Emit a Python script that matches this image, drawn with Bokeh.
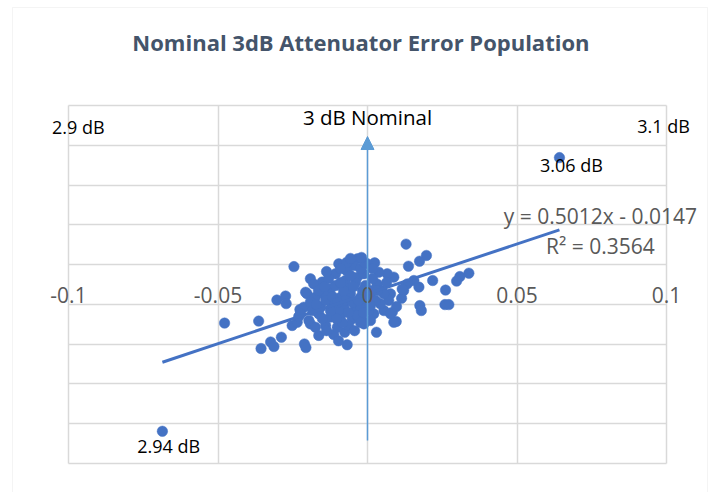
from bokeh.plotting import figure
from bokeh.models import (Range1d, LinearAxis, FixedTicker, Label, Arrow, NormalHead,
                          ColumnDataSource, BoxAnnotation)
from bokeh.embed import file_html
from bokeh.resources import INLINE

# ---- data ----
title_text = "Nominal 3dB Attenuator Error Population"
x_ticks = [-0.1, -0.05, 0.0, 0.05, 0.1]
x_tick_labels = ["-0.1", "-0.05", "0", "0.05", "0.1"]
y_grid = [-0.1, -0.08, -0.06, -0.04, -0.02, 0.0, 0.02, 0.04, 0.06, 0.08]
x_axis_cross = -0.02

err_x = [0.0642, -0.0686, -0.0478, -0.0364, -0.0356, -0.0324, -0.0313, -0.0288, -0.0303, -0.0274,
         -0.0272, -0.0246, -0.0252, -0.0211, -0.0206, -0.0226, -0.0235, -0.0230, -0.0191, -0.0213,
         -0.0202, -0.0207, -0.0163, -0.0113, -0.0068, -0.0076, -0.0191, -0.0152, -0.0180, -0.0107,
         -0.0096, -0.0074, -0.0124, -0.0174, -0.0146, -0.0090, -0.0057, -0.0023, -0.0034, -0.0034,
         -0.0046, -0.0012, -0.0191, -0.0157, -0.0118, -0.0079, -0.0040, -0.0023, -0.0224, -0.0196,
         -0.0163, -0.0124, -0.0090, -0.0051, -0.0018, -0.0034, -0.0174, -0.0140, -0.0101, -0.0063,
         -0.0012, 0.0024, -0.0001, 0.0129, 0.0197, 0.0174, 0.0137, 0.0339, 0.0309, 0.0298,
         0.0218, 0.0261, 0.0172, 0.0114, 0.0175, 0.0180, 0.0259, 0.0272, 0.0096, 0.0030,
         0.0088, 0.0066, 0.0038, 0.0155, 0.0133, 0.0121, 0.0077, 0.0071, 0.0083, 0.0055,
         0.0021, 0.0010, 0.0032, 0.0049, 0.0043, 0.0088, 0.0077, 0.0055, 0.0116, -0.0107,
         -0.0064, -0.0007, -0.0007, 0.0003, -0.0074, -0.0140, -0.0097, -0.0050, -0.0017, -0.0130,
         -0.0070, -0.0023, 0.0017, 0.0027, 0.0010, -0.0084, -0.0164, 0.0017, -0.0040, -0.0010,
         -0.0137, -0.0117, -0.0100, -0.0080, -0.0064, -0.0047, -0.0030, -0.0013, -0.0104, -0.0124,
         -0.0151, -0.0184, -0.0171, -0.0070, -0.0057, -0.0090, -0.0144, -0.0023, -0.0043, -0.0097,
         -0.0137, 0.0010, 0.0033, 0.0017, 0.0064, 0.0097, -0.0057, -0.0090, -0.0020]
err_y = [0.0538, -0.0838, -0.0294, -0.0284, -0.0422, -0.0389, -0.0412, -0.0365, -0.0178, -0.0158,
         -0.0196, -0.0010, -0.0306, -0.0399, -0.0417, -0.0226, -0.0290, -0.0261, -0.0298, -0.0214,
         -0.0147, -0.0139, -0.0356, -0.0351, -0.0403, -0.0340, -0.0071, -0.0088, -0.0097, -0.0046,
         0.0004, -0.0080, -0.0122, -0.0164, -0.0147, -0.0164, -0.0147, -0.0164, -0.0063, 0.0029,
         -0.0005, -0.0046, -0.0189, -0.0214, -0.0206, -0.0214, -0.0222, -0.0214, -0.0247, -0.0281,
         -0.0247, -0.0264, -0.0256, -0.0273, -0.0281, -0.0256, -0.0315, -0.0306, -0.0315, -0.0306,
         -0.0298, 0.0009, 0.0004, 0.0103, 0.0046, 0.0017, -0.0008, -0.0043, -0.0060, -0.0083,
         -0.0080, -0.0128, -0.0113, -0.0169, -0.0206, -0.0231, -0.0201, -0.0201, -0.0286, -0.0340,
         -0.0063, -0.0046, -0.0038, -0.0080, -0.0097, -0.0130, -0.0147, -0.0180, -0.0239, -0.0231,
         -0.0247, -0.0164, -0.0097, -0.0130, -0.0197, -0.0290, -0.0247, -0.0147, -0.0122, -0.0105,
         -0.0120, -0.0105, -0.0180, -0.0231, -0.0180, -0.0180, -0.0231, -0.0191, -0.0130, -0.0070,
         -0.0030, -0.0020, -0.0070, -0.0180, -0.0281, -0.0291, -0.0130, -0.0130, -0.0090, 0.0011,
         -0.0035, -0.0160, -0.0191, -0.0130, -0.0241, -0.0110, -0.0181, -0.0241, -0.0271, -0.0231,
         -0.0271, -0.0231, -0.0201, 0.0011, -0.0055, -0.0090, -0.0110, -0.0291, -0.0332, -0.0383,
         -0.0332, -0.0206, -0.0130, -0.0020, -0.0090, -0.0211, 0.0031, -0.0020, 0.0036]

trend_coef = [0.5012, -0.0147]   # slope, intercept (as printed on the chart)
trend_text = ["y = 0.5012x - 0.0147", "R\u00b2 = 0.3564"]

nominal_arrow = [-0.0884, 0.0644]  # y start / end of the "3 dB Nominal" marker at x = 0

# annotation texts: (text, x, y, align, size)
notes = [
    ("2.9 dB", -0.1055, 0.0690, "left", "18px"),
    ("3 dB Nominal", 0.0, 0.0742, "center", "20.5px"),
    ("3.1 dB", 0.0902, 0.0698, "left", "18px"),
    ("3.06 dB", 0.0577, 0.0503, "left", "18px"),
    ("2.94 dB", -0.0770, -0.0913, "left", "18px"),
]

FONT = "Open Sans"
GRID = "#D9D9D9"
BLUE = "#4472C4"

# canvas == frame; the visible ranges extend past the plotting area (-0.1..0.1, -0.1..0.08)
W, H = 709, 492
PX_X = 2990.0   # pixels per x unit
PX_Y = 1988.9   # pixels per y unit
LEFT, TOP = 68, 105
x0 = x_ticks[0] - LEFT / PX_X
x1 = x_ticks[0] + (W - LEFT) / PX_X
y1 = y_grid[-1] + TOP / PX_Y
y0 = y_grid[-1] - (H - TOP) / PX_Y

p = figure(width=W, height=H, output_backend="svg", toolbar_location=None,
           x_range=Range1d(x0, x1), y_range=Range1d(y0, y1),
           x_axis_location=None, y_axis_location=None,
           min_border=0)
p.outline_line_color = None
p.background_fill_color = "white"
p.border_fill_color = "white"

# outer chart border
p.add_layout(BoxAnnotation(left=x0 + 12 / PX_X, right=x0 + 707 / PX_X,
                           top=y1 - 7 / PX_Y, bottom=y0 - 0.01,
                           fill_color=None, line_color=GRID, line_width=1))

grid_cross_ok = "cross_bounds" in p.xgrid[0].properties()
p.xgrid.ticker = FixedTicker(ticks=x_ticks)
p.ygrid.ticker = FixedTicker(ticks=y_grid)
for g in (p.xgrid, p.ygrid):
    g.grid_line_color = GRID
    g.grid_line_width = 1.5
if grid_cross_ok:
    p.xgrid.cross_bounds = (y_grid[0], y_grid[-1])
    p.ygrid.cross_bounds = (x_ticks[0], x_ticks[-1])
else:
    p.xgrid.visible = False
    p.ygrid.visible = False
    p.segment(x0=x_ticks, y0=[y_grid[0]] * len(x_ticks), x1=x_ticks, y1=[y_grid[-1]] * len(x_ticks),
              line_color=GRID, line_width=1.5)
    p.segment(x0=[x_ticks[0]] * len(y_grid), y0=y_grid, x1=[x_ticks[-1]] * len(y_grid), y1=y_grid,
              line_color=GRID, line_width=1.5)

xa = LinearAxis(fixed_location=x_axis_cross, ticker=FixedTicker(ticks=x_ticks),
                major_label_overrides={t: l for t, l in zip(x_ticks, x_tick_labels)})
xa.axis_line_color = None
xa.major_tick_out = 0
xa.major_tick_in = 0
xa.minor_tick_out = 0
xa.minor_tick_in = 0
xa.major_label_standoff = 1
xa.major_label_text_font = FONT
xa.major_label_text_font_size = "21px"
xa.major_label_text_color = "#595959"
p.add_layout(xa, "above")

src = ColumnDataSource(dict(x=err_x, y=err_y))
p.scatter("x", "y", source=src, size=10.5, fill_color=BLUE, line_color=BLUE, line_width=0.5)

xmin, xmax = min(err_x), max(err_x)
tx = [xmin, xmax]
ty = [trend_coef[0] * v + trend_coef[1] for v in tx]
p.line(tx, ty, line_color=BLUE, line_width=3)

p.add_layout(Arrow(end=NormalHead(size=13, fill_color="#5B9BD5", line_color="#5B9BD5"),
                   x_start=0, y_start=nominal_arrow[0], x_end=0, y_end=nominal_arrow[1],
                   line_color="#5B9BD5", line_width=1.5))

for txt, x, y, al, sz in notes:
    p.add_layout(Label(x=x, y=y, text=txt, text_align=al, text_baseline="alphabetic",
                       text_font=FONT, text_font_size=sz, text_color="black"))

p.add_layout(Label(x=0.0779, y=0.0245, text=trend_text[0], text_align="center",
                   text_baseline="alphabetic", text_font=FONT, text_font_size="21px",
                   text_color="#595959"))
p.add_layout(Label(x=0.0779, y=0.0093, text=trend_text[1], text_align="center",
                   text_baseline="alphabetic", text_font=FONT, text_font_size="21px",
                   text_color="#595959"))

p.add_layout(Label(x=-0.0022, y=0.1117, text=title_text, text_align="center",
                   text_baseline="alphabetic", text_font=FONT, text_font_size="22px",
                   text_font_style="bold", text_color="#44546A"))

open("out.html", "w").write(file_html(p, INLINE))
